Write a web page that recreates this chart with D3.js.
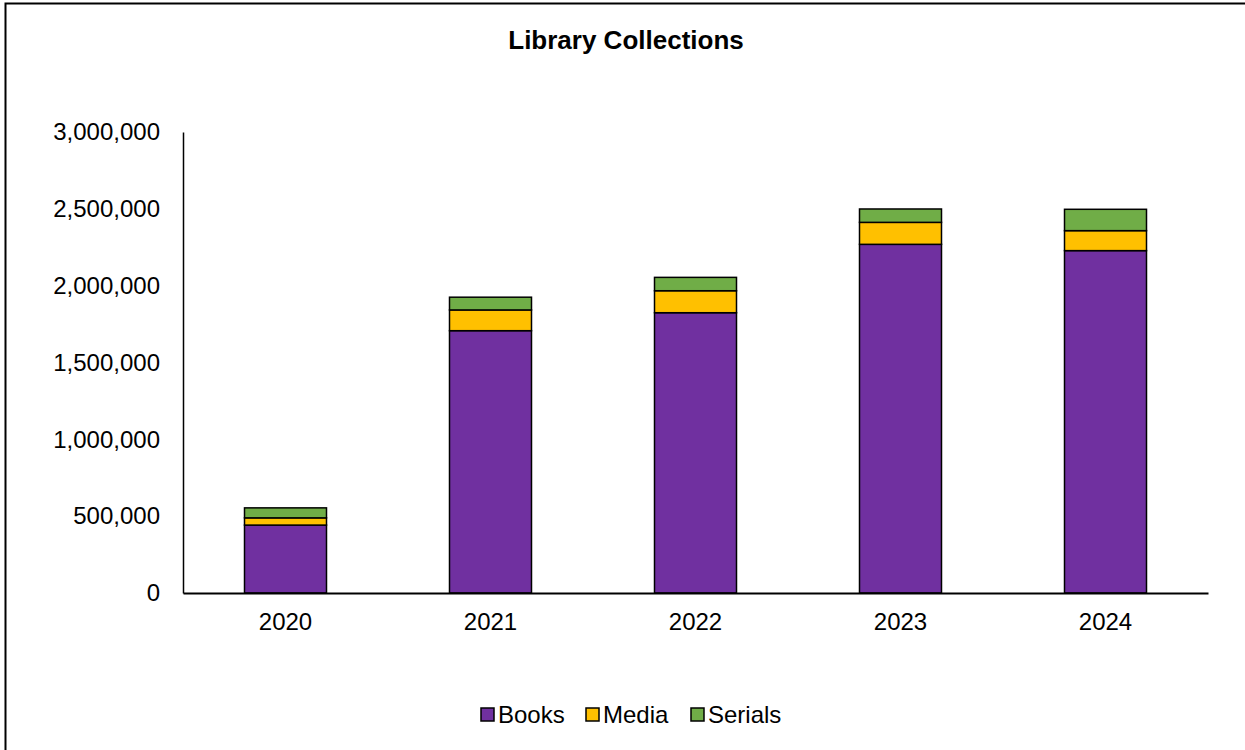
<!DOCTYPE html>
<html>
<head>
<meta charset="utf-8">
<script src="https://cdn.jsdelivr.net/npm/d3@7"></script>
<style>
  html, body { margin: 0; padding: 0; background: #fff; }
  svg { display: block; }
  text { font-family: "Liberation Sans", Arial, sans-serif; fill: #000; }
</style>
</head>
<body>
<svg id="chart" width="1245" height="750"></svg>
<script>
const years = ["2020", "2021", "2022", "2023", "2024"];
const books = [442000, 1707000, 1824000, 2269000, 2228000];
const media = [47000, 135000, 143000, 143000, 130000];
const serials = [65000, 83000, 87000, 87000, 139000];
const seriesNames = ["Books", "Media", "Serials"];
const seriesColors = ["#7030A0", "#FFC000", "#70AD47"];
const yTicks = [0, 500000, 1000000, 1500000, 2000000, 2500000, 3000000];
const title = "Library Collections";

(function () {
const svg = d3.select("#chart");
const W = 1245, H = 750;

// outer chart border
svg.append("rect").attr("x", 5.5).attr("y", 3.5).attr("width", W + 10).attr("height", H + 10)
  .attr("fill", "#fff").attr("stroke", "#000").attr("stroke-width", 2);

const mLeft = 183, mRight = 1208, mTop = 132, mBottom = 593;

const x = d3.scaleBand().domain(years).range([mLeft, mRight]).paddingInner(0.6).paddingOuter(0.3);
const y = d3.scaleLinear().domain([0, 3000000]).range([mBottom, mTop]);

const rows = years.map((yr, i) => ({ year: yr, Books: books[i], Media: media[i], Serials: serials[i] }));
const stack = d3.stack().keys(seriesNames)(rows);

svg.append("text").attr("x", 626).attr("y", 49).attr("text-anchor", "middle")
  .attr("font-size", 26).attr("font-weight", "bold").text(title);

// y axis
const yAxis = d3.axisLeft(y).tickValues(yTicks).tickSize(0).tickPadding(23)
  .tickFormat(d3.format(","));
const gy = svg.append("g").attr("transform", `translate(${mLeft},0)`).call(yAxis);
gy.select(".domain").attr("stroke", "#000").attr("stroke-width", 1.5);
gy.selectAll("text").attr("font-size", 24).attr("font-family", "Liberation Sans, Arial, sans-serif").attr("fill", "#000");

// bars
stack.forEach((s, k) => {
  svg.append("g").selectAll("rect").data(s).join("rect")
    .attr("x", d => x(d.data.year))
    .attr("width", x.bandwidth())
    .attr("y", d => y(d[1]))
    .attr("height", d => y(d[0]) - y(d[1]))
    .attr("fill", seriesColors[k])
    .attr("stroke", "#000").attr("stroke-width", 1.5);
});

// x axis
const xAxis = d3.axisBottom(x).tickSize(0).tickPadding(20);
const gx = svg.append("g").attr("transform", `translate(0,${mBottom})`).call(xAxis);
gx.select(".domain").attr("stroke", "#000").attr("stroke-width", 2);
gx.selectAll("text").attr("font-size", 24).attr("font-family", "Liberation Sans, Arial, sans-serif").attr("fill", "#000");

// legend
const legendX = [481, 586, 691];
const lg = svg.append("g");
seriesNames.forEach((n, i) => {
  lg.append("rect").attr("x", legendX[i]).attr("y", 708).attr("width", 13).attr("height", 13)
    .attr("fill", seriesColors[i]).attr("stroke", "#000").attr("stroke-width", 1.5);
  lg.append("text").attr("x", legendX[i] + 17).attr("y", 723).attr("font-size", 24).text(n);
});
})();
</script>
</body>
</html>
